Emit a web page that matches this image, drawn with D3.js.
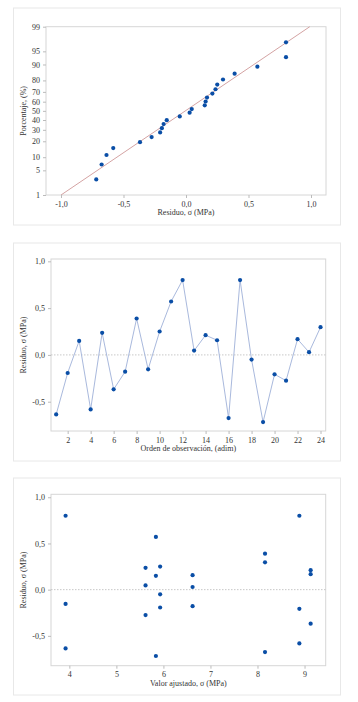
<!DOCTYPE html>
<html>
<head>
<meta charset="utf-8">
<script src="https://cdn.jsdelivr.net/npm/d3@7"></script>
<style>
  body { margin: 0; background: #fff; }
  svg text { font-family: "Liberation Serif", "DejaVu Serif", serif; fill: #333; }
</style>
</head>
<body>
<svg id="chart" width="358" height="702"></svg>
<script>
// residuals by observation order
const order = d3.range(1, 25);
const residuals = [-0.636, -0.193, 0.150, -0.582, 0.236, -0.368, -0.179, 0.389, -0.154, 0.250, 0.571, 0.800,
                   0.046, 0.211, 0.157, -0.675, 0.800, -0.050, -0.718, -0.207, -0.275, 0.168, 0.029, 0.296];
// fitted values by observation order
const fitted = [3.92, 5.93, 5.84, 8.89, 5.62, 9.13, 6.62, 8.16, 3.92, 5.93, 5.84, 3.92,
                5.62, 9.13, 6.62, 8.16, 8.89, 5.93, 5.84, 8.89, 5.62, 9.13, 6.62, 8.16];
// normal plot: sorted residuals and their percentiles
const sortedRes = [-0.718, -0.675, -0.636, -0.582, -0.368, -0.275, -0.207, -0.193, -0.179, -0.154, -0.050, 0.029,
                   0.046, 0.150, 0.157, 0.168, 0.211, 0.236, 0.250, 0.296, 0.389, 0.571, 0.800, 0.800];
const percentiles = [2.9, 6.9, 11.1, 15.2, 19.3, 23.4, 27.5, 31.6, 35.7, 39.8, 43.9, 48.0,
                     52.0, 56.1, 60.2, 64.3, 68.4, 72.5, 76.6, 80.7, 84.8, 88.9, 93.1, 97.1];
const fitLine = [{x: -1.0, p: 1}, {x: 0.99, p: 99}];
const pctTicks = [1, 5, 10, 20, 30, 40, 50, 60, 70, 80, 90, 95, 99];
const resTicks = [-0.5, 0, 0.5, 1.0];
const orderTicks = [2, 4, 6, 8, 10, 12, 14, 16, 18, 20, 22, 24];
const fittedTicks = [4, 5, 6, 7, 8, 9];

const svg = d3.select("#chart");
const fmt = d => d3.format(".1f")(d).replace(".", ",").replace("−", "-");
const ptColor = "#0a4ea6";
const borderColor = "#d6d6d6";

// inverse normal cdf (Acklam approximation) for the probability axis
function probit(p) {
    const a = [-39.6968302866538, 220.946098424521, -275.928510446969, 138.357751867269, -30.6647980661472, 2.50662827745924];
    const b = [-54.4760987982241, 161.585836858041, -155.698979859887, 66.8013118877197, -13.2806815528857];
    const c = [-0.00778489400243029, -0.322396458041136, -2.40075827716184, -2.54973253934373, 4.37466414146497, 2.93816398269878];
    const e = [0.00778469570904146, 0.32246712907004, 2.445134137143, 3.75440866190742];
    const pl = 0.02425;
    if (p < pl) {
        const s = Math.sqrt(-2 * Math.log(p));
        return (((((c[0]*s+c[1])*s+c[2])*s+c[3])*s+c[4])*s+c[5]) / ((((e[0]*s+e[1])*s+e[2])*s+e[3])*s+1);
    } else if (p <= 1 - pl) {
        const s = p - 0.5, r = s * s;
        return (((((a[0]*r+a[1])*r+a[2])*r+a[3])*r+a[4])*r+a[5])*s / (((((b[0]*r+b[1])*r+b[2])*r+b[3])*r+b[4])*r+1);
    }
    const s = Math.sqrt(-2 * Math.log(1 - p));
    return -(((((c[0]*s+c[1])*s+c[2])*s+c[3])*s+c[4])*s+c[5]) / ((((e[0]*s+e[1])*s+e[2])*s+e[3])*s+1);
}

function frame(y0, y1) {
    svg.append("rect").attr("x", 13.5).attr("y", y0).attr("width", 327).attr("height", y1 - y0)
        .attr("fill", "none").attr("stroke", "#e8e8e8");
}

function plotBox(l, r, t, b) {
    svg.append("rect").attr("x", l).attr("y", t).attr("width", r - l).attr("height", b - t)
        .attr("fill", "none").attr("stroke", borderColor);
}

function styleAxis(g) {
    g.select(".domain").remove();
    g.selectAll(".tick line").attr("stroke", "#bbb");
    g.selectAll(".tick text").attr("font-size", 8).attr("fill", "#333")
        .attr("font-family", "Liberation Serif, serif");
}

function yTitle(text, cy) {
    svg.append("text").attr("transform", `translate(26,${cy}) rotate(-90)`)
        .attr("text-anchor", "middle").attr("font-size", 8).attr("fill", "#555").text(text);
}
function xTitle(text, cx, y) {
    svg.append("text").attr("x", cx).attr("y", y).attr("text-anchor", "middle")
        .attr("font-size", 8).attr("fill", "#555").text(text);
}

// ---------- panel 1: normal probability plot ----------
frame(8, 225);
{
    const L = 46, R = 326, T = 26.7, B = 195;
    const zScale = d3.scaleLinear().domain([probit(0.01), probit(0.99)]).range([B, T]);
    const y = p => zScale(probit(p / 100));
    const x = d3.scaleLinear().domain([-1.12, 1.12]).range([L, R]);

    plotBox(L, R, T, B);

    svg.append("line")
        .attr("x1", x(fitLine[0].x)).attr("y1", y(fitLine[0].p))
        .attr("x2", x(fitLine[1].x)).attr("y2", y(fitLine[1].p))
        .attr("stroke", "#d4a3a3").attr("stroke-width", 1);

    svg.append("g").selectAll("circle").data(sortedRes).enter().append("circle")
        .attr("cx", d => x(d)).attr("cy", (d, i) => y(percentiles[i]))
        .attr("r", 2.1).attr("fill", ptColor);

    const ya = svg.append("g").attr("transform", `translate(${L},0)`)
        .call(d3.axisLeft(zScale).tickValues(pctTicks.map(p => probit(p / 100))).tickSize(3)
            .tickFormat((d, i) => pctTicks[i]));
    styleAxis(ya);
    const xa = svg.append("g").attr("transform", `translate(0,${B})`)
        .call(d3.axisBottom(x).tickValues([-1, -0.5, 0, 0.5, 1]).tickSize(3).tickFormat(fmt));
    styleAxis(xa);
    yTitle("Porcentaje, (%)", (T + B) / 2);
    xTitle("Residuo, σ (MPa)", (L + R) / 2, 215);
}

// ---------- panel 2: residuals vs order ----------
frame(243, 461);
{
    const L = 51, R = 325.7, T = 259, B = 431;
    const x = d3.scaleLinear().domain([0.55, 24.45]).range([L, R]);
    const y = d3.scaleLinear().domain([-0.813, 1.025]).range([B, T]);
    plotBox(L, R, T, B);
    svg.append("line").attr("x1", L).attr("x2", R).attr("y1", y(0)).attr("y2", y(0))
        .attr("stroke", "#c8c8c8").attr("stroke-dasharray", "1.5,1.5");
    svg.append("path").datum(residuals)
        .attr("d", d3.line().x((d, i) => x(order[i])).y(d => y(d)))
        .attr("fill", "none").attr("stroke", "#a9b9dd").attr("stroke-width", 1);
    svg.append("g").selectAll("circle").data(residuals).enter().append("circle")
        .attr("cx", (d, i) => x(order[i])).attr("cy", d => y(d))
        .attr("r", 2.1).attr("fill", ptColor);
    const ya = svg.append("g").attr("transform", `translate(${L},0)`)
        .call(d3.axisLeft(y).tickValues(resTicks).tickSize(3).tickFormat(fmt));
    styleAxis(ya);
    const xa = svg.append("g").attr("transform", `translate(0,${B})`)
        .call(d3.axisBottom(x).tickValues(orderTicks).tickSize(3).tickFormat(d3.format("d")));
    styleAxis(xa);
    yTitle("Residuo, σ (MPa)", (T + B) / 2);
    xTitle("Orden de observación, (adim)", (L + R) / 2, 451);
}

// ---------- panel 3: residuals vs fitted ----------
frame(478, 695);
{
    const L = 51, R = 325.7, T = 494.3, B = 665.7;
    const x = d3.scaleLinear().domain([3.61, 9.45]).range([L, R]);
    const y = d3.scaleLinear().domain([-0.823, 1.032]).range([B, T]);
    plotBox(L, R, T, B);
    svg.append("line").attr("x1", L).attr("x2", R).attr("y1", y(0)).attr("y2", y(0))
        .attr("stroke", "#c8c8c8").attr("stroke-dasharray", "1.5,1.5");
    svg.append("g").selectAll("circle").data(residuals).enter().append("circle")
        .attr("cx", (d, i) => x(fitted[i])).attr("cy", d => y(d))
        .attr("r", 2.1).attr("fill", ptColor);
    const ya = svg.append("g").attr("transform", `translate(${L},0)`)
        .call(d3.axisLeft(y).tickValues(resTicks).tickSize(3).tickFormat(fmt));
    styleAxis(ya);
    const xa = svg.append("g").attr("transform", `translate(0,${B})`)
        .call(d3.axisBottom(x).tickValues(fittedTicks).tickSize(3).tickFormat(d3.format("d")));
    styleAxis(xa);
    yTitle("Residuo, σ (MPa)", (T + B) / 2);
    xTitle("Valor ajustado, σ (MPa)", (L + R) / 2, 686);
}
</script>
</body>
</html>
